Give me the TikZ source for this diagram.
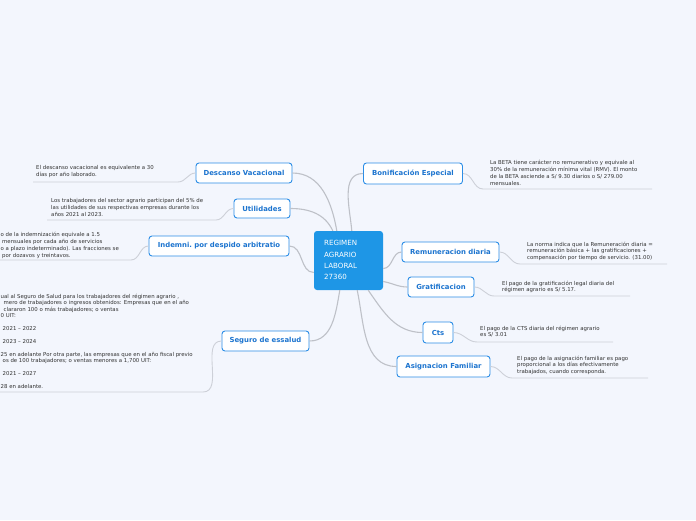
\documentclass[tikz,border=0pt]{standalone}
\usepackage{fontspec}
\setmainfont{DejaVu Sans}
\usetikzlibrary{calc}
\definecolor{bgc}{HTML}{F3F6FD}
\definecolor{boxblue}{HTML}{2B8DE6}
\definecolor{lblblue}{HTML}{1C74CF}
\definecolor{cfill}{HTML}{1E96E6}
\definecolor{linec}{HTML}{BEC1C8}
\definecolor{ulc}{HTML}{CDD0D8}
\definecolor{desct}{HTML}{333333}
\tikzset{
  lbl/.style={draw=boxblue, fill=white, rounded corners=3pt, line width=0.9pt,
    font=\bfseries\fontsize{6.9}{8}\selectfont, text=lblblue, minimum height=20pt, inner sep=0pt},
  desc/.style={anchor=north west, inner sep=0pt, align=left, text=desct,
    font=\fontsize{5.4}{6.9}\selectfont},
  conn/.style={draw=linec, line width=1.1pt},
  uline/.style={draw=ulc, line width=0.9pt},
}
\begin{document}
\begin{tikzpicture}[x=1pt,y=-1pt]
\fill[bgc] (0,0) rectangle (696,520);
\useasboundingbox (0,0) rectangle (696,520);

% center
\node[fill=cfill, rounded corners=3pt, minimum width=69pt, minimum height=59pt, inner sep=0pt] (c) at (348.5,260.5) {};
\node[anchor=north west, inner sep=0pt, align=left, text=white, font=\fontsize{7.1}{11.2}\selectfont] (ct) at (324,240.5) {REGIMEN\\AGRARIO\\LABORAL\\27360};

% labels
\node[lbl, minimum width=96pt] (dv) at (244,173) {Descanso Vacacional};
\node[lbl, minimum width=56pt, minimum height=19pt] (ut) at (262,208.5) {Utilidades};
\node[lbl, minimum width=140pt] (in) at (219,246) {Indemni.\ por despido arbitratio};
\node[lbl, minimum width=87pt] (se) at (265.5,341) {Seguro de essalud};
\node[lbl, minimum width=99pt, minimum height=21pt] (bo) at (413,173.5) {Bonificación Especial};
\node[lbl, minimum width=97pt] (re) at (450.5,252) {Remuneracion diaria};
\node[lbl, minimum width=66pt] (gr) at (441,287) {Gratificacion};
\node[lbl, minimum width=30pt, minimum height=21pt] (ct2) at (438,332.5) {Cts};
\node[lbl, minimum width=93pt, minimum height=21pt] (as) at (443.5,366.5) {Asignacion Familiar};

% main connectors
\draw[conn] ([xshift=23pt]c.north west) to[out=100,in=0] (dv.east);
\draw[conn] ([xshift=19pt]c.north west) to[out=115,in=0] (ut.east);
\draw[conn] ([yshift=-12pt]c.west) to[out=180,in=0] (in.east);
\draw[conn] ([xshift=38pt]c.north west) to[out=95,in=180] (bo.west);
\draw[conn] ([yshift=-8pt]c.east) to[out=0,in=180] (re.west);
\draw[conn] ([yshift=-21pt]c.east) to[out=-10,in=180] (gr.west);
\draw[conn] ([xshift=-15pt]c.south east) to[out=-55,in=180] (ct2.west);
\draw[conn] ([xshift=-26pt]c.south east) to[out=-78,in=180] (as.west);
\draw[conn] ([xshift=26pt]c.south west) to[out=-100,in=0] (se.east);

% underline anchors
\coordinate (dvA) at (178,182); \coordinate (dvB) at (33,182);
\coordinate (utA) at (216,220); \coordinate (utB) at (47,220);
\coordinate (inA) at (131,260); \coordinate (inB) at (0,260);
\coordinate (seA) at (203,392); \coordinate (seB) at (0,392);
\coordinate (boA) at (483,189); \coordinate (boB) at (652,189);
\coordinate (reA) at (520,264); \coordinate (reB) at (667,264);
\coordinate (grA) at (494,296); \coordinate (grB) at (630,296);
\coordinate (ctA) at (477,342); \coordinate (ctB) at (613,342);
\coordinate (asA) at (512,378); \coordinate (asB) at (648,378);

\draw[uline] (dv.west) to[out=180,in=0] (dvA) -- (dvB);
\draw[uline] (ut.west) to[out=180,in=0] (utA) -- (utB);
\draw[uline] (in.west) to[out=180,in=0] (inA) -- (inB);
\draw[uline] (se.west) to[out=180,in=0] (seA) -- (seB);
\draw[uline] (bo.east) to[out=0,in=180] (boA) -- (boB);
\draw[uline] (re.east) to[out=0,in=180] (reA) -- (reB);
\draw[uline] (gr.east) to[out=0,in=180] (grA) -- (grB);
\draw[uline] (ct2.east) to[out=0,in=180] (ctA) -- (ctB);
\draw[uline] (as.east) to[out=0,in=180] (asA) -- (asB);

% descriptions
\node[desc] (dvd) at (36,165) {El descanso vacacional es equivalente a 30\\días por año laborado.};
\node[desc] (utd) at (51,198) {Los trabajadores del sector agrario participan del 5\% de\\las utilidades de sus respectivas empresas durante los\\años 2021 al 2023.};
\node[desc] (ind) at (0.5,232) {o de la indemnización equivale a 1.5\\\hspace{1.5pt}mensuales por cada año de servicios\\o a plazo indeterminado). Las fracciones se\\\hspace{1.5pt}por dozavos y treintavos.};
\node[desc, font=\fontsize{5.4}{6.4}\selectfont] (sed) at (0.5,294) {ual al Seguro de Salud para los trabajadores del régimen agrario ,\\\hspace{3pt}mero de trabajadores o ingresos obtenidos: Empresas que en el año\\\hspace{3pt}clararon 100 o más trabajadores; o ventas\\0 UIT:\\[6.4pt]\hspace{2pt}2021 – 2022\\[6.4pt]\hspace{2pt}2023 – 2024\\[6.4pt]25 en adelante Por otra parte, las empresas que en el año fiscal previo\\\hspace{2pt}os de 100 trabajadores; o ventas menores a 1,700 UIT:\\[6.4pt]\hspace{2pt}2021 – 2027\\[6.4pt]28 en adelante.};
\node[desc] (bod) at (490,160) {La BETA tiene carácter no remunerativo y equivale al\\30\% de la remuneración mínima vital (RMV). El monto\\de la BETA asciende a S/ 9.30 diarios o S/ 279.00\\mensuales.};
\node[desc] (red) at (527,241.5) {La norma indica que la Remuneración diaria =\\remuneración básica + las gratificaciones +\\compensación por tiempo de servicio. (31.00)};
\node[desc] (grd) at (502,280.5) {El pago de la gratificación legal diaria del\\régimen agrario es S/ 5.17.};
\node[desc] (ctd) at (480,325.5) {El pago de la CTS diaria del régimen agrario\\es S/ 3.01};
\node[desc] (asd) at (517,355.5) {El pago de la asignación familiar es pago\\proporcional a los días efectivamente\\trabajados, cuando corresponda.};
\end{tikzpicture}
\end{document}
